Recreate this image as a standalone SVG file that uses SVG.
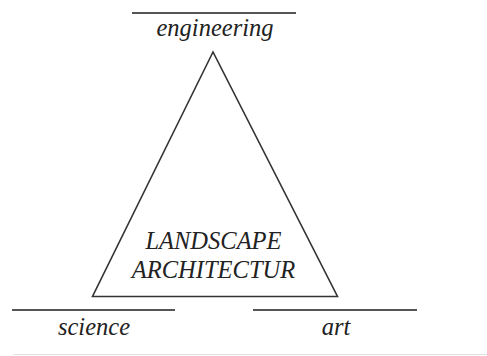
<svg xmlns="http://www.w3.org/2000/svg" width="487" height="356" viewBox="0 0 487 356">
<style>
text{font-family:'Liberation Serif','Times New Roman','DejaVu Serif',serif;font-style:italic;font-size:24.5px;fill:#222;text-anchor:middle}
.bar{stroke:#555;stroke-width:1.8}
</style>
<rect width="487" height="356" fill="#fff"/>
<g id="triangle">
<polygon points="213,52 92.5,296.5 337.5,296.5" fill="none" stroke="#333" stroke-width="1.6"/>
<text x="213.5" y="249">LANDSCAPE</text>
<text x="213.5" y="277.5">ARCHITECTUR</text>
</g>
<g id="engineering">
<line class="bar" x1="132" y1="13" x2="296" y2="13"/>
<text x="215" y="36">engineering</text>
</g>
<g id="science">
<line class="bar" x1="12" y1="310" x2="175" y2="310"/>
<text x="94" y="335">science</text>
</g>
<g id="art">
<line class="bar" x1="253" y1="310" x2="417" y2="310"/>
<text x="336" y="335">art</text>
</g>
<g id="connectors"></g>
<line x1="13" y1="354.5" x2="487" y2="354.5" stroke="#e2e2e2" stroke-width="1"/>
</svg>
